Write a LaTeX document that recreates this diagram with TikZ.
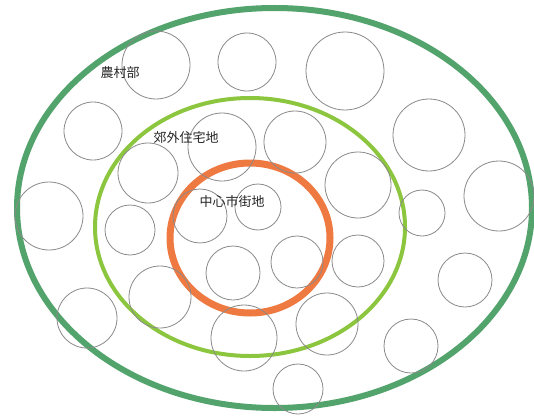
\documentclass[tikz,border=0pt]{standalone}
\usepackage{fontspec}
\newfontfamily\jpfont{Noto Sans CJK JP}
\definecolor{outergreen}{HTML}{53A36C}
\definecolor{midgreen}{HTML}{8CC63F}
\definecolor{coreorange}{HTML}{EE7A42}
\definecolor{cellgray}{HTML}{8A8A8A}
\begin{document}
\begin{tikzpicture}[x=1pt,y=-1pt,
  ring/.style={line width=#1},
  cell/.style={draw=cellgray,line width=0.8pt},
  lbl/.style={font=\jpfont\fontsize{13}{15}\selectfont,text=black!85,inner sep=0pt}]
\useasboundingbox[fill=white] (0,0) rectangle (534,417);
% rings
\draw[ring=6pt,outergreen] (274.5,208) ellipse [x radius=257.5,y radius=200];
\draw[ring=4pt,midgreen] (250,227) ellipse [x radius=155,y radius=129];
\draw[ring=7pt,coreorange] (250,238) ellipse [x radius=80,y radius=75];
% cells
\foreach \cx/\cy/\r in {
  156/65/34, 247/62/29, 345/71/39, 93/131/29, 148/173/30,
  222/147/34, 295/142/31, 358/185/33, 429/135/36, 499/196/35,
  422/213/23, 49/216/34, 130/230/25, 200/216/27, 258/207/23,
  233/273/27, 297/262/26, 358/261/26, 465/280/27, 160/297/31,
  87/318/30, 244/338/33, 327/324/31, 411/346/27, 298/389/25}
  \draw[cell] (\cx,\cy) circle [radius=\r];
% labels
\node[lbl] (rural) at (120,73) {農村部};
\node[lbl] (suburb) at (186,138) {郊外住宅地};
\node[lbl] (center) at (232,202) {中心市街地};
\end{tikzpicture}
\end{document}
